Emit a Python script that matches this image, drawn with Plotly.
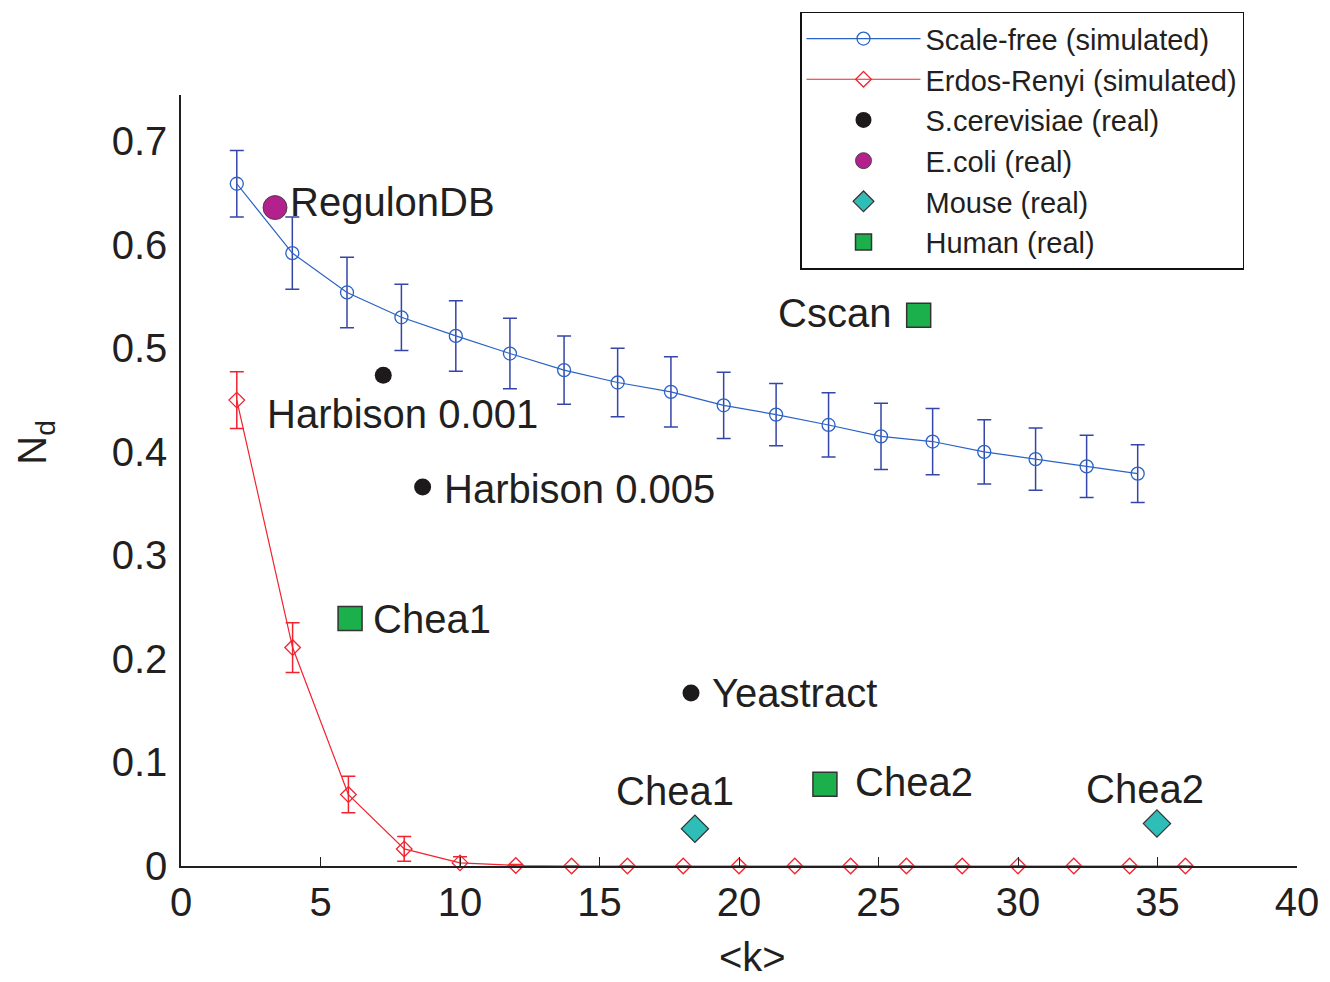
import plotly.graph_objects as go

# ---------------- data ----------------
sf_k = [2.00, 3.99, 5.95, 7.90, 9.85, 11.79, 13.73, 15.65, 17.56, 19.45,
        21.33, 23.21, 25.09, 26.94, 28.79, 30.63, 32.46, 34.29]
sf_nd = [0.659, 0.592, 0.554, 0.530, 0.512, 0.495, 0.479, 0.467, 0.458, 0.445,
         0.436, 0.426, 0.415, 0.410, 0.400, 0.393, 0.386, 0.379]
sf_err = [0.032, 0.035, 0.034, 0.032, 0.034, 0.034, 0.033, 0.033, 0.034, 0.032,
          0.030, 0.031, 0.032, 0.032, 0.031, 0.030, 0.030, 0.028]

er_k = [2, 4, 6, 8, 10, 12, 14, 16, 18, 20, 22, 24, 26, 28, 30, 32, 34, 36]
er_nd = [0.450, 0.211, 0.069, 0.0165, 0.003, 0.0005, 0, 0, 0, 0, 0, 0, 0, 0, 0, 0, 0, 0]
er_err = [0.0275, 0.024, 0.0176, 0.012, 0.006, 0.001, 0, 0, 0, 0, 0, 0, 0, 0, 0, 0, 0, 0]

yeast_names = ["Harbison 0.001", "Harbison 0.005", "Yeastract"]
yeast_k = [7.25, 8.66, 18.28]
yeast_nd = [0.474, 0.366, 0.167]

ecoli_names = ["RegulonDB"]
ecoli_k = [3.37]
ecoli_nd = [0.636]

mouse_names = ["Chea1", "Chea2"]
mouse_k = [18.42, 34.98]
mouse_nd = [0.036, 0.041]

human_names = ["Chea1", "Cscan", "Chea2"]
human_k = [6.06, 26.44, 23.08]
human_nd = [0.239, 0.532, 0.079]

x_ticks = [0, 5, 10, 15, 20, 25, 30, 35, 40]
y_ticks = [0, 0.1, 0.2, 0.3, 0.4, 0.5, 0.6, 0.7]
y_ticktext = ["0", "0.1", "0.2", "0.3", "0.4", "0.5", "0.6", "0.7"]

# ---------------- styling ----------------
FONT = "Liberation Sans, Arial, Helvetica, sans-serif"
TXT = "#231f20"
BLUE = "#2a62c6"
BLUE_ERR = "#3545a8"
RED = "#f2232f"
MAGENTA = "#b3218c"
TEAL = "#2fbdb7"
GREEN = "#1bb04c"
EDGE = "#333333"

fig = go.Figure()

fig.add_trace(go.Scatter(
    x=sf_k, y=sf_nd, mode="lines+markers", name="Scale-free (simulated)",
    line=dict(color=BLUE, width=1.2),
    marker=dict(symbol="circle-open", size=13, color=BLUE, line=dict(width=1.3, color=BLUE)),
    error_y=dict(type="data", array=sf_err, color=BLUE_ERR, thickness=1.5, width=7),
    cliponaxis=False,
))
fig.add_trace(go.Scatter(
    x=er_k, y=er_nd, mode="lines+markers", name="Erdos-Renyi (simulated)",
    line=dict(color=RED, width=1.2),
    marker=dict(symbol="diamond-open", size=12, color=RED, line=dict(width=1.3, color=RED)),
    error_y=dict(type="data", array=er_err, color=RED, thickness=1.5, width=7),
    cliponaxis=False,
))
fig.add_trace(go.Scatter(
    x=yeast_k, y=yeast_nd, mode="markers", name="S.cerevisiae (real)",
    marker=dict(symbol="circle", size=17, color="#1c1a1b", line=dict(width=0)),
    cliponaxis=False,
))
fig.add_trace(go.Scatter(
    x=ecoli_k, y=ecoli_nd, mode="markers", name="E.coli (real)",
    marker=dict(symbol="circle", size=24, color=MAGENTA, line=dict(width=0.8, color=EDGE)),
    cliponaxis=False,
))
fig.add_trace(go.Scatter(
    x=mouse_k, y=mouse_nd, mode="markers", name="Mouse (real)",
    marker=dict(symbol="diamond", size=21, color=TEAL, line=dict(width=1.2, color=EDGE)),
    cliponaxis=False,
))
fig.add_trace(go.Scatter(
    x=human_k, y=human_nd, mode="markers", name="Human (real)",
    marker=dict(symbol="square", size=24, color=GREEN, line=dict(width=1.5, color=EDGE)),
    cliponaxis=False,
))

# point labels, placed relative to their points
label_specs = []
label_specs += [(n, x, y) for n, x, y in zip(ecoli_names, ecoli_k, ecoli_nd)]
label_specs += [(n, x, y) for n, x, y in zip(yeast_names, yeast_k, yeast_nd)]
label_specs += [(n, x, y) for n, x, y in zip(human_names, human_k, human_nd)]
label_specs += [(n, x, y) for n, x, y in zip(mouse_names, mouse_k, mouse_nd)]
offsets = [
    ("left", 13, 6),      # RegulonDB
    ("center", 19, -39),  # Harbison 0.001
    ("left", 19, -2),     # Harbison 0.005
    ("left", 19, 0),      # Yeastract
    ("left", 21, 0),      # Chea1 human
    ("right", -26, 2),    # Cscan
    ("left", 28, 2),      # Chea2 human
    ("center", -20, 38),  # Chea1 mouse
    ("center", -12, 35),  # Chea2 mouse
]
for (name, x, y), (xa, xs, ys) in zip(label_specs, offsets):
    fig.add_annotation(x=x, y=y, xref="x", yref="y", text=name, showarrow=False,
                       xanchor=xa, yanchor="middle", xshift=xs, yshift=ys,
                       font=dict(family=FONT, size=40, color=TXT))

# axis titles as annotations
fig.add_annotation(x=(752 - 181) / 1116, y=-(958 - 866) / 776, xref="paper", yref="paper",
                   text="&lt;k&gt;", showarrow=False, xanchor="center", yanchor="middle",
                   font=dict(family=FONT, size=40, color=TXT))
fig.add_annotation(x=-(181 - 35) / 1116, y=(866 - 440) / 776, xref="paper", yref="paper",
                   text="N<sub>d</sub>", showarrow=False, xanchor="center", yanchor="middle",
                   textangle=-90, font=dict(family=FONT, size=40, color=TXT))

fig.update_layout(
    width=1330, height=982,
    margin=dict(l=181, r=33, t=90, b=116, pad=0),
    paper_bgcolor="white", plot_bgcolor="white",
    font=dict(family=FONT, color=TXT),
    showlegend=True,
    legend=dict(
        x=(800 - 181) / 1116, y=(866 - 136) / 776, xanchor="left", yanchor="middle",
        bordercolor="#111111", borderwidth=1.5, bgcolor="white",
        font=dict(family=FONT, size=29, color=TXT),
        itemwidth=114, tracegroupgap=0,
    ),
    xaxis=dict(
        range=[0, 40], tickvals=x_ticks, ticks="inside", ticklen=9, tickwidth=1.2,
        tickcolor=TXT, showline=True, linecolor=TXT, linewidth=1.5, showgrid=False,
        zeroline=False, tickfont=dict(family=FONT, size=40, color=TXT),
        ticklabelstandoff=0,
    ),
    yaxis=dict(
        range=[0, (866 - 90) / 1042], tickvals=y_ticks, ticktext=y_ticktext, ticks="",
        showline=True, linecolor=TXT, linewidth=1.5, showgrid=False, zeroline=False,
        tickfont=dict(family=FONT, size=40, color=TXT), ticklabelstandoff=4,
    ),
)

fig.write_html("out.html", config={"displayModeBar": False},
               post_script="document.body.style.margin='0px';")
